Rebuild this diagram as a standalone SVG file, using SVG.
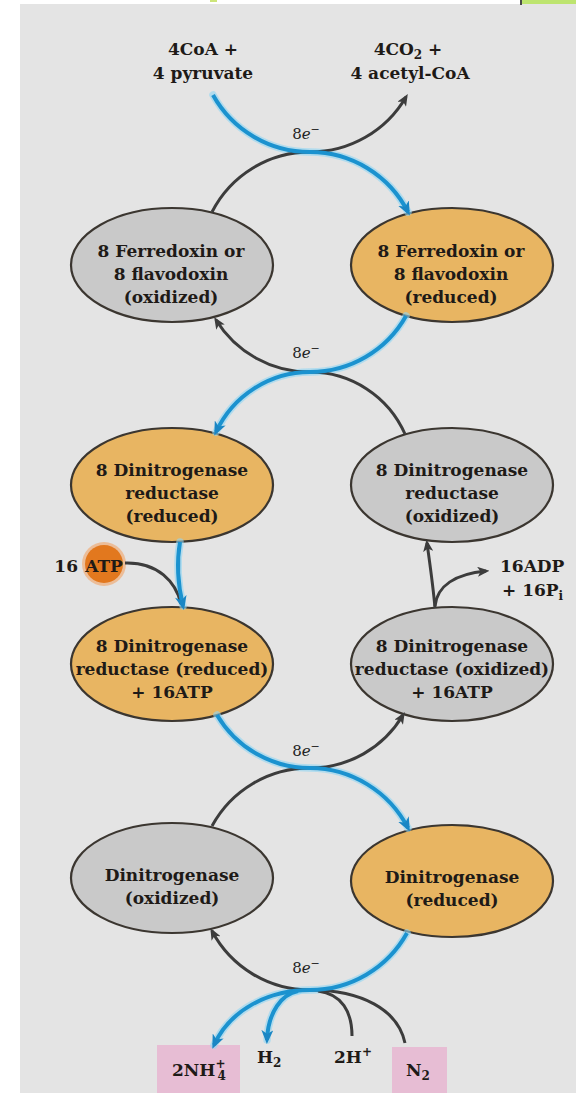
<svg xmlns="http://www.w3.org/2000/svg" width="576" height="1093" viewBox="0 0 576 1093">
<style>
.bg{fill:#e4e4e4}
.ox{fill:#c9c9c9;stroke:#3b3630;stroke-width:2.2}
.rd{fill:#e8b562;stroke:#3b3630;stroke-width:2.2}
.t{font-family:"DejaVu Serif",serif;font-weight:bold;font-size:17px;fill:#1e1a17;text-anchor:middle}
.ts{font-family:"DejaVu Serif",serif;font-weight:bold;font-size:17px;fill:#1e1a17}
.e8{font-family:"DejaVu Serif",serif;font-size:15px;fill:#222;text-anchor:middle}
.glow{fill:none;stroke:#8fd6f4;stroke-width:7.5;stroke-linecap:round;opacity:.6}
.blue{fill:none;stroke:#1b92cf;stroke-width:4}
.dark{fill:none;stroke:#3c3c3c;stroke-width:3}
.box{fill:#e7bdd4}
</style>
<defs>
<marker id="ab" viewBox="0 0 14 12" refX="10" refY="6" markerWidth="14" markerHeight="12" markerUnits="userSpaceOnUse" orient="auto"><path d="M0,0 L14,6 L0,12 L4,6 z" fill="#1a86c4"/></marker>
<marker id="ad" viewBox="0 0 12 10" refX="8.5" refY="5" markerWidth="12" markerHeight="10" markerUnits="userSpaceOnUse" orient="auto"><path d="M0,0 L12,5 L0,10 L3,5 z" fill="#3c3c3c"/></marker>
</defs>
<rect x="0" y="0" width="576" height="1093" fill="#ffffff"/>
<rect class="bg" x="20" y="4" width="556" height="1089"/>
<rect x="210" y="0" width="7" height="2" fill="#cde57a"/>
<rect x="522" y="0" width="54" height="4" fill="#bde46f"/>
<rect x="520" y="0" width="2" height="5" fill="#4a4a4a"/>

<g id="labels">
<text class="t" x="203" y="55">4CoA +</text>
<text class="t" x="203" y="79">4 pyruvate</text>
<text class="t" x="408" y="55">4CO<tspan font-size="12" dy="4">2</tspan><tspan dy="-4"> +</tspan></text>
<text class="t" x="410" y="79">4 acetyl-CoA</text>
<text class="e8" x="306" y="139">8<tspan font-style="italic">e</tspan><tspan font-size="11" dy="-6">−</tspan></text>
<text class="e8" x="306" y="358">8<tspan font-style="italic">e</tspan><tspan font-size="11" dy="-6">−</tspan></text>
<text class="e8" x="306" y="756">8<tspan font-style="italic">e</tspan><tspan font-size="11" dy="-6">−</tspan></text>
<text class="e8" x="306" y="973">8<tspan font-style="italic">e</tspan><tspan font-size="11" dy="-6">−</tspan></text>
</g>

<g id="n-fd-ox"><ellipse class="ox" cx="172" cy="265" rx="101" ry="57"/>
<text class="t" x="171" y="257">8 Ferredoxin or</text><text class="t" x="171" y="280">8 flavodoxin</text><text class="t" x="171" y="303">(oxidized)</text></g>
<g id="n-fd-red"><ellipse class="rd" cx="452" cy="265" rx="101" ry="57"/>
<text class="t" x="451" y="257">8 Ferredoxin or</text><text class="t" x="451" y="280">8 flavodoxin</text><text class="t" x="451" y="303">(reduced)</text></g>
<g id="n-dr-red"><ellipse class="rd" cx="172" cy="485" rx="101" ry="57"/>
<text class="t" x="172" y="476">8 Dinitrogenase</text><text class="t" x="172" y="499">reductase</text><text class="t" x="172" y="522">(reduced)</text></g>
<g id="n-dr-ox"><ellipse class="ox" cx="452" cy="485" rx="101" ry="57"/>
<text class="t" x="452" y="476">8 Dinitrogenase</text><text class="t" x="452" y="499">reductase</text><text class="t" x="452" y="522">(oxidized)</text></g>
<g id="n-dr-red-atp"><ellipse class="rd" cx="172" cy="664" rx="101" ry="57"/>
<text class="t" x="172" y="652">8 Dinitrogenase</text><text class="t" x="172" y="675">reductase (reduced)</text><text class="t" x="172" y="698">+ 16ATP</text></g>
<g id="n-dr-ox-atp"><ellipse class="ox" cx="452" cy="664" rx="101" ry="57"/>
<text class="t" x="452" y="652">8 Dinitrogenase</text><text class="t" x="452" y="675">reductase (oxidized)</text><text class="t" x="452" y="698">+ 16ATP</text></g>
<g id="n-dn-ox"><ellipse class="ox" cx="172" cy="878" rx="101" ry="55"/>
<text class="t" x="172" y="881">Dinitrogenase</text><text class="t" x="172" y="904">(oxidized)</text></g>
<g id="n-dn-red"><ellipse class="rd" cx="452" cy="881" rx="101" ry="56"/>
<text class="t" x="452" y="883">Dinitrogenase</text><text class="t" x="452" y="906">(reduced)</text></g>

<g id="n-atp">
<circle cx="104" cy="564" r="22" fill="#f1a465" opacity="0.6"/>
<circle cx="104" cy="564" r="19" fill="#e2781e"/>
<text class="ts" x="78" y="572" text-anchor="end">16</text>
<text class="t" x="104" y="572">ATP</text>
</g>
<g id="n-adp">
<text class="ts" x="500" y="572">16ADP</text>
<text class="ts" x="502" y="596">+ 16P<tspan font-size="12" dy="4">i</tspan></text>
</g>
<g id="n-nh4"><rect class="box" x="157" y="1045" width="83" height="48"/>
<text class="ts" x="172" y="1076">2NH<tspan font-size="12" dy="-8">+</tspan><tspan font-size="12" dx="-8" dy="12">4</tspan></text></g>
<g id="n-h2"><text class="ts" x="257" y="1063">H<tspan font-size="12" dy="4">2</tspan></text></g>
<g id="n-2h"><text class="ts" x="334" y="1063">2H<tspan font-size="12" dy="-7">+</tspan></text></g>
<g id="n-n2"><rect class="box" x="392" y="1047" width="55" height="46"/>
<text class="ts" x="406" y="1076">N<tspan font-size="12" dy="4">2</tspan></text></g>

<g id="connectors">
<path class="glow" d="M213,95 A111,111 0 0 0 310,152 A110,110 0 0 1 408,212"/>
<path class="glow" d="M406,316 A110,110 0 0 1 310,372 A104,104 0 0 0 216,432"/>
<path class="glow" d="M180,542 C176,565 178,585 183,606"/>
<path class="glow" d="M217,715 A108,108 0 0 0 310,768 A111,111 0 0 1 408,828"/>
<path class="glow" d="M407,933 A111,111 0 0 1 310,990 C268,990 230,1010 214,1045"/>
<path class="glow" d="M298,991 C282,994 268,1012 267,1040"/>

<path class="dark" d="M212,212 A110,110 0 0 1 310,152 A111,111 0 0 0 406,97" marker-end="url(#ad)"/>
<path class="dark" d="M405,434 A104,104 0 0 0 310,372 A110,110 0 0 1 216,320" marker-end="url(#ad)"/>
<path class="dark" d="M125,563 C158,562 176,582 181,604"/>
<path class="dark" d="M435,608 C433,585 430,565 427,543" marker-end="url(#ad)"/>
<path class="dark" d="M435,606 C437,586 455,574 486,571" marker-end="url(#ad)"/>
<path class="dark" d="M212,826 A111,111 0 0 1 310,768 A108,108 0 0 0 403,715" marker-end="url(#ad)"/>
<path class="dark" d="M405,1043 C398,1010 362,990 310,990 A111,111 0 0 1 212,931" marker-end="url(#ad)"/>
<path class="dark" d="M352,1036 C352,1012 342,994 318,991"/>

<path class="blue" d="M213,95 A111,111 0 0 0 310,152 A110,110 0 0 1 408,212" marker-end="url(#ab)"/>
<path class="blue" d="M406,316 A110,110 0 0 1 310,372 A104,104 0 0 0 216,432" marker-end="url(#ab)"/>
<path class="blue" d="M180,542 C176,565 178,585 183,606" marker-end="url(#ab)"/>
<path class="blue" d="M217,715 A108,108 0 0 0 310,768 A111,111 0 0 1 408,828" marker-end="url(#ab)"/>
<path class="blue" d="M407,933 A111,111 0 0 1 310,990 C268,990 230,1010 214,1045" marker-end="url(#ab)"/>
<path class="blue" d="M298,991 C282,994 268,1012 267,1040" marker-end="url(#ab)"/>
</g>
</svg>
